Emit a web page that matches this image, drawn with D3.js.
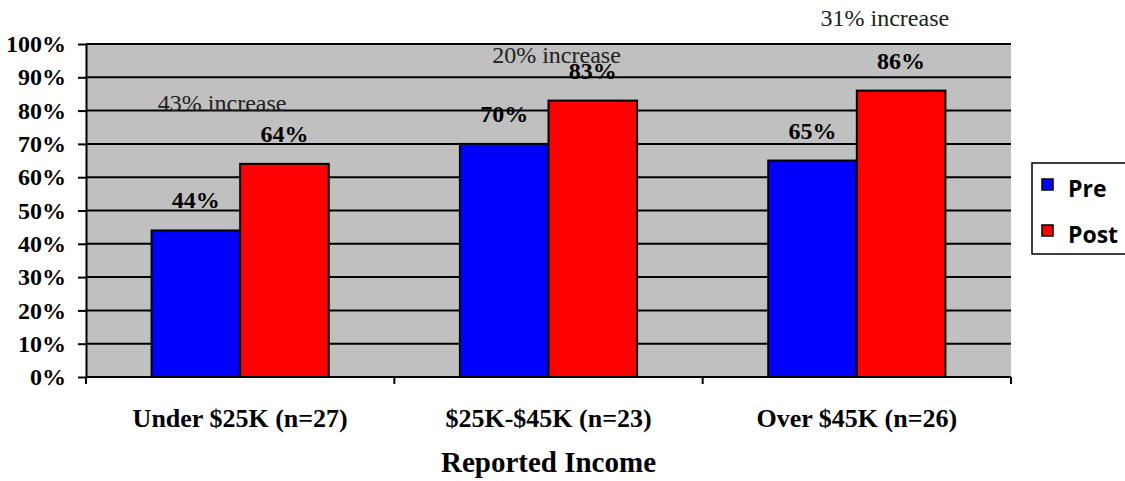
<!DOCTYPE html>
<html>
<head>
<meta charset="utf-8">
<script src="https://cdn.jsdelivr.net/npm/d3@7"></script>
<style>
  html, body { margin: 0; padding: 0; background: #fff; }
  svg { display: block; }
  .axis path, .axis line { stroke: #000; stroke-width: 2px; }
</style>
</head>
<body>
<div id="chart"></div>
<script>
// Data
var categories = ['Under $25K (n=27)', '$25K-$45K (n=23)', 'Over $45K (n=26)'];
var seriesNames = ['Pre', 'Post'];
var preValues = [0.44, 0.70, 0.65];
var postValues = [0.64, 0.83, 0.86];
var increaseLabels = ['43% increase', '20% increase', '31% increase'];
var increaseLevels = [0.80, 0.942, 1.053];   // vertical level of the note, in data units
var yTicks = [0, 0.1, 0.2, 0.3, 0.4, 0.5, 0.6, 0.7, 0.8, 0.9, 1.0];
var xTitle = 'Reported Income';

// Layout
var W = 1125, H = 481;
var margin = {top: 44, right: 114, bottom: 104, left: 86};
var width = W - margin.left - margin.right;
var height = H - margin.top - margin.bottom;
var colors = {Pre: '#0000ff', Post: '#ff0000'};
var noteShift = [-18, 8, 28];
var serif = '"Liberation Serif", "Times New Roman", serif';

var x0 = d3.scaleBand().domain(categories).range([0, width]).padding(0);
var x1 = d3.scaleBand().domain(seriesNames).range([0, x0.bandwidth()])
  .paddingInner(0).paddingOuter(0.74);
var y = d3.scaleLinear().domain([0, 1]).range([height, 0]);

var svg = d3.select('#chart').append('svg')
  .attr('width', W)
  .attr('height', H);

var g = svg.append('g')
  .attr('transform', 'translate(' + margin.left + ',' + margin.top + ')');

// Plot background
g.append('rect')
  .attr('width', width)
  .attr('height', height)
  .attr('fill', '#c0c0c0');

// Gridlines
g.selectAll('.grid')
  .data(yTicks.slice(1))
  .enter().append('line')
  .attr('class', 'grid')
  .attr('x1', 0).attr('x2', width)
  .attr('y1', function(d) { return y(d); })
  .attr('y2', function(d) { return y(d); })
  .attr('stroke', '#000')
  .attr('stroke-width', 2);

// Bars
var rows = categories.map(function(c, i) {
  return {cat: c, values: [{key: 'Pre', v: preValues[i]}, {key: 'Post', v: postValues[i]}]};
});

var groups = g.selectAll('.group')
  .data(rows)
  .enter().append('g')
  .attr('class', 'group')
  .attr('transform', function(d) { return 'translate(' + x0(d.cat) + ',0)'; });

groups.selectAll('rect')
  .data(function(d) { return d.values; })
  .enter().append('rect')
  .attr('x', function(d) { return x1(d.key); })
  .attr('width', x1.bandwidth())
  .attr('y', function(d) { return y(d.v); })
  .attr('height', function(d) { return height - y(d.v); })
  .attr('fill', function(d) { return colors[d.key]; })
  .attr('stroke', '#000')
  .attr('stroke-width', 2);

// Value labels
groups.selectAll('.val')
  .data(function(d) { return d.values; })
  .enter().append('text')
  .attr('class', 'val')
  .attr('x', function(d) { return x1(d.key) + x1.bandwidth() / 2; })
  .attr('y', function(d) { return y(d.v) - 22; })
  .attr('text-anchor', 'middle')
  .style('font-family', serif)
  .style('font-weight', 'bold')
  .style('font-size', '24px')
  .text(function(d) { return Math.round(d.v * 100) + '%'; });

// Increase notes
svg.selectAll('.note')
  .data(increaseLabels)
  .enter().append('text')
  .attr('class', 'note')
  .attr('x', function(d, i) { return margin.left + x0(categories[i]) + x0.bandwidth() / 2 + noteShift[i]; })
  .attr('y', function(d, i) { return margin.top + y(increaseLevels[i]); })
  .attr('text-anchor', 'middle')
  .style('font-family', serif)
  .style('font-size', '24px')
  .attr('fill', '#222')
  .text(function(d) { return d; });

// Y axis
var yAxis = d3.axisLeft(y)
  .tickValues(yTicks)
  .tickFormat(d3.format('.0%'))
  .tickSizeInner(8)
  .tickSizeOuter(0)
  .tickPadding(12);

g.append('g')
  .attr('class', 'y axis')
  .call(yAxis)
  .selectAll('text')
  .style('font-family', serif)
  .style('font-weight', 'bold')
  .style('font-size', '24px')
  .attr('fill', '#000');

// X axis (labels only, boundary ticks drawn separately)
var xAxis = d3.axisBottom(x0).tickSize(0).tickPadding(32);
var xg = g.append('g')
  .attr('class', 'x axis')
  .attr('transform', 'translate(0,' + height + ')')
  .call(xAxis);
xg.select('.domain').attr('d', 'M0,0H' + width);
xg.selectAll('text')
  .style('font-family', serif)
  .style('font-weight', 'bold')
  .style('font-size', '26px')
  .attr('fill', '#000');

var bounds = categories.map(function(c) { return x0(c); }).concat([width]);
xg.selectAll('.bound')
  .data(bounds)
  .enter().append('line')
  .attr('class', 'bound')
  .attr('x1', function(d) { return d; })
  .attr('x2', function(d) { return d; })
  .attr('y1', 0).attr('y2', 7)
  .attr('stroke', '#000')
  .attr('stroke-width', 2);

// X title
svg.append('text')
  .attr('x', margin.left + width / 2)
  .attr('y', 472)
  .attr('text-anchor', 'middle')
  .style('font-family', serif)
  .style('font-weight', 'bold')
  .style('font-size', '29px')
  .text(xTitle);

// Legend
var legend = svg.append('g')
  .attr('transform', 'translate(1032,163)');
legend.append('rect')
  .attr('width', 120)
  .attr('height', 91)
  .attr('fill', '#fff')
  .attr('stroke', '#000')
  .attr('stroke-width', 1.5);

var items = legend.selectAll('.item')
  .data(seriesNames)
  .enter().append('g')
  .attr('class', 'item')
  .attr('transform', function(d, i) { return 'translate(10,' + (16 + i * 46) + ')'; });
items.append('rect')
  .attr('width', 11)
  .attr('height', 11)
  .attr('fill', function(d) { return colors[d]; })
  .attr('stroke', '#000')
  .attr('stroke-width', 1.5);
items.append('text')
  .attr('x', 26)
  .attr('y', 18)
  .style('font-family', '"Open Sans", Lato, sans-serif')
  .style('font-weight', 'bold')
  .style('font-size', '23px')
  .text(function(d) { return d; });
</script>
</body>
</html>
